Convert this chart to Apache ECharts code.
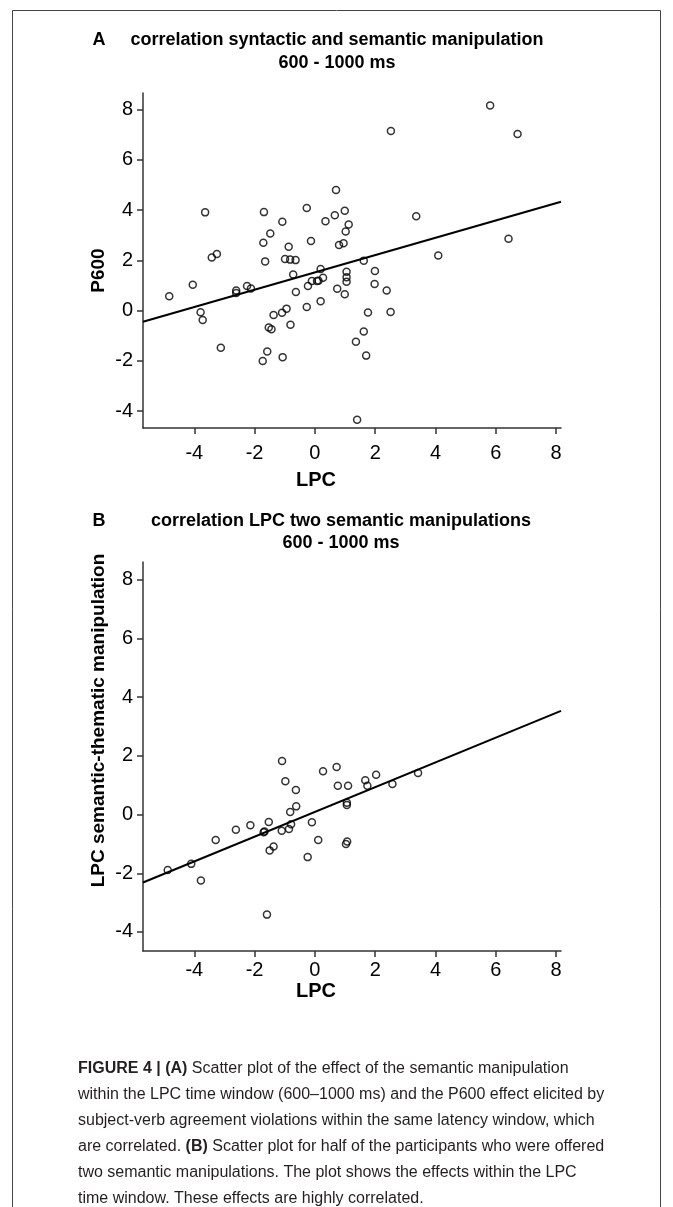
<!DOCTYPE html>
<html>
<head>
<meta charset="utf-8">
<script src="https://cdn.jsdelivr.net/npm/echarts@6/dist/echarts.min.js"></script>
<style>
html, body { margin: 0; padding: 0; background: #fff; }
#chart { width: 673px; height: 1207px; }
</style>
</head>
<body>
<div id="chart"></div>
<script>
// panel A: LPC effect (x) against P600 effect (y)
var lpcA = [-4.83, -4.05, -3.79, -3.72, -3.64, -3.42, -3.25, -3.12, -2.61, -2.61,
            -2.25, -2.12, -1.73, -1.71, -1.69, -1.65, -1.58, -1.53, -1.48, -1.44,
            -1.37, -1.09, -1.08, -1.07, -0.99, -0.94, -0.87, -0.82, -0.81, -0.72,
            -0.64, -0.63, -0.27, -0.27, -0.23, -0.13, -0.10, 0.07, 0.12, 0.19,
            0.19, 0.27, 0.35, 0.66, 0.70, 0.74, 0.80, 0.95, 0.99, 0.99,
            1.02, 1.12, 1.05, 1.05, 1.05, 1.36, 1.40, 1.62, 1.62, 1.70,
            1.76, 1.98, 1.99, 2.38, 2.51, 2.52, 3.36, 4.09, 5.81, 6.42, 6.72];
var p600A = [0.57, 1.03, -0.06, -0.37, 3.91, 2.11, 2.25, -1.48, 0.80, 0.70,
             0.98, 0.88, -2.00, 2.70, 3.92, 1.96, -1.63, -0.67, 3.07, -0.74,
             -0.17, -0.08, 3.54, -1.85, 2.05, 0.08, 2.54, 2.03, -0.56, 1.44,
             2.01, 0.74, 4.08, 0.14, 0.98, 2.77, 1.18, 1.18, 1.19, 1.66,
             0.37, 1.31, 3.56, 3.80, 4.80, 0.87, 2.61, 2.68, 3.97, 0.65,
             3.15, 3.43, 1.55, 1.33, 1.15, -1.24, -4.34, 1.99, -0.83, -1.79,
             -0.07, 1.06, 1.58, 0.80, -0.05, 7.15, 3.76, 2.19, 8.16, 2.86, 7.03];

// panel B: LPC effect (x) against LPC effect of the thematic manipulation (y)
var lpcB = [-4.88, -4.10, -3.78, -3.29, -2.62, -2.14, -1.70, -1.67, -1.59, -1.53,
            -1.50, -1.37, -1.10, -1.09, -0.98, -0.86, -0.82, -0.79, -0.63, -0.62,
            -0.24, -0.10, 0.11, 0.27, 0.72, 0.76, 1.03, 1.06, 1.06, 1.07,
            1.10, 1.67, 1.74, 2.03, 2.57, 3.42];
var thematicB = [-1.89, -1.68, -2.25, -0.87, -0.52, -0.36, -0.60, -0.58, -3.41, -0.25,
                 -1.22, -1.09, -0.55, 1.83, 1.14, -0.49, 0.09, -0.33, 0.84, 0.28,
                 -1.45, -0.26, -0.87, 1.48, 1.62, 0.98, -1.00, 0.40, 0.33, -0.92,
                 0.98, 1.17, 0.98, 1.36, 1.04, 1.42];

var xTicks = [-4, -2, 0, 2, 4, 6, 8];
var yTicks = [-4, -2, 0, 2, 4, 6, 8];

var captionLines = [
    '{b|FIGURE 4 | (A)} Scatter plot of the effect of the semantic manipulation',
    'within the LPC time window (600–1000 ms) and the P600 effect elicited by',
    'subject-verb agreement violations within the same latency window, which',
    'are correlated. {b|(B)} Scatter plot for half of the participants who were offered',
    'two semantic manipulations. The plot shows the effects within the LPC',
    'time window. These effects are highly correlated.'
];

var FONT = '"Liberation Sans", Arial, sans-serif';
var xMin = -5.7, xMax = 8.16;

function pairs(xs, ys) {
    return xs.map(function (x, i) { return [x, ys[i]]; });
}

// least squares line through the points
function fitLine(xs, ys) {
    var n = xs.length, mx = 0, my = 0;
    for (var i = 0; i < n; i++) { mx += xs[i]; my += ys[i]; }
    mx /= n; my /= n;
    var sxy = 0, sxx = 0;
    for (var j = 0; j < n; j++) {
        sxy += (xs[j] - mx) * (ys[j] - my);
        sxx += (xs[j] - mx) * (xs[j] - mx);
    }
    var b = sxy / sxx, a = my - b * mx;
    return [[xMin, a + b * xMin], [xMax, a + b * xMax]];
}

function xAxisCfg(idx, gap, labelMargin) {
    return {
        gridIndex: idx, type: 'value', min: xMin, max: xMax,
        name: 'LPC', nameLocation: 'middle', nameGap: gap,
        nameTextStyle: { fontFamily: FONT, fontWeight: 'bold', fontSize: 20, color: '#000', padding: [0, 72, 0, 0] },
        axisLine: { show: true, onZero: false, lineStyle: { color: '#333', width: 1.5 } },
        axisTick: { show: true, length: 6, customValues: xTicks, lineStyle: { color: '#333', width: 1.5 } },
        axisLabel: { customValues: xTicks, fontFamily: FONT, fontSize: 20, color: '#000', margin: labelMargin },
        splitLine: { show: false }
    };
}

function yAxisCfg(idx, name, min, max, gap, pad) {
    return {
        gridIndex: idx, type: 'value', min: min, max: max,
        name: name, nameLocation: 'middle', nameGap: gap, nameMoveOverlap: false,
        nameTextStyle: { fontFamily: FONT, fontWeight: 'bold', fontSize: 19, color: '#000', padding: pad },
        axisLine: { show: true, onZero: false, lineStyle: { color: '#333', width: 1.5 } },
        axisTick: { show: true, length: 6, customValues: yTicks, lineStyle: { color: '#333', width: 1.5 } },
        axisLabel: { customValues: yTicks, fontFamily: FONT, fontSize: 20, color: '#000', margin: 10 },
        splitLine: { show: false }
    };
}

var dot = { color: 'rgba(0,0,0,0)', borderColor: '#000', borderWidth: 1.5 };
var fitStyle = { color: '#000', width: 2 };

function txt(x, y, s, font, align) {
    return {
        type: 'text', x: x, y: y, silent: true,
        style: { text: s, font: font, fill: '#000', textAlign: align || 'center', textVerticalAlign: 'middle' }
    };
}

var TFONT = 'bold 18px ' + FONT;
var graphics = [
    { type: 'rect', silent: true, shape: { x: 12.5, y: 10.5, width: 648, height: 1300 },
      style: { fill: 'none', stroke: '#444', lineWidth: 1 } },
    txt(99, 40, 'A', TFONT),
    txt(337, 40, 'correlation syntactic and semantic manipulation', TFONT),
    txt(337, 63, '600 - 1000 ms', TFONT),
    txt(99, 521, 'B', TFONT),
    txt(341, 521, 'correlation LPC two semantic manipulations', TFONT),
    txt(341, 543, '600 - 1000 ms', TFONT)
];

captionLines.forEach(function (line, i) {
    graphics.push({
        type: 'text', x: 78, y: 1069 + i * 26, silent: true,
        style: {
            text: line, font: '16px ' + FONT, fill: '#231f20',
            textAlign: 'left', textVerticalAlign: 'middle',
            rich: { b: { font: 'bold 16px ' + FONT, fill: '#231f20' } }
        }
    });
});

var myChart = echarts.init(document.getElementById('chart'));
var option = {
    animation: false,
    backgroundColor: '#fff',
    grid: [
        { left: 143, width: 418, top: 93, height: 335 },
        { left: 143, width: 418, top: 562, height: 389 }
    ],
    xAxis: [xAxisCfg(0, 42, 15), xAxisCfg(1, 30, 9)],
    yAxis: [
        yAxisCfg(0, 'P600', -4.67, 8.66, 35, [0, 20, 0, 0]),
        yAxisCfg(1, 'LPC semantic-thematic manipulation', -4.65, 8.61, 35, [0, 0, 0, 72])
    ],
    series: [
        { type: 'scatter', xAxisIndex: 0, yAxisIndex: 0, symbol: 'circle', symbolSize: 7,
          itemStyle: dot, data: pairs(lpcA, p600A), silent: true },
        { type: 'line', xAxisIndex: 0, yAxisIndex: 0, showSymbol: false, lineStyle: fitStyle,
          data: fitLine(lpcA, p600A), silent: true },
        { type: 'scatter', xAxisIndex: 1, yAxisIndex: 1, symbol: 'circle', symbolSize: 7,
          itemStyle: dot, data: pairs(lpcB, thematicB), silent: true },
        { type: 'line', xAxisIndex: 1, yAxisIndex: 1, showSymbol: false, lineStyle: fitStyle,
          data: fitLine(lpcB, thematicB), silent: true }
    ],
    graphic: graphics
};
myChart.setOption(option);
window.addEventListener('resize', function () {
    myChart.resize();
});
</script>
</body>
</html>
